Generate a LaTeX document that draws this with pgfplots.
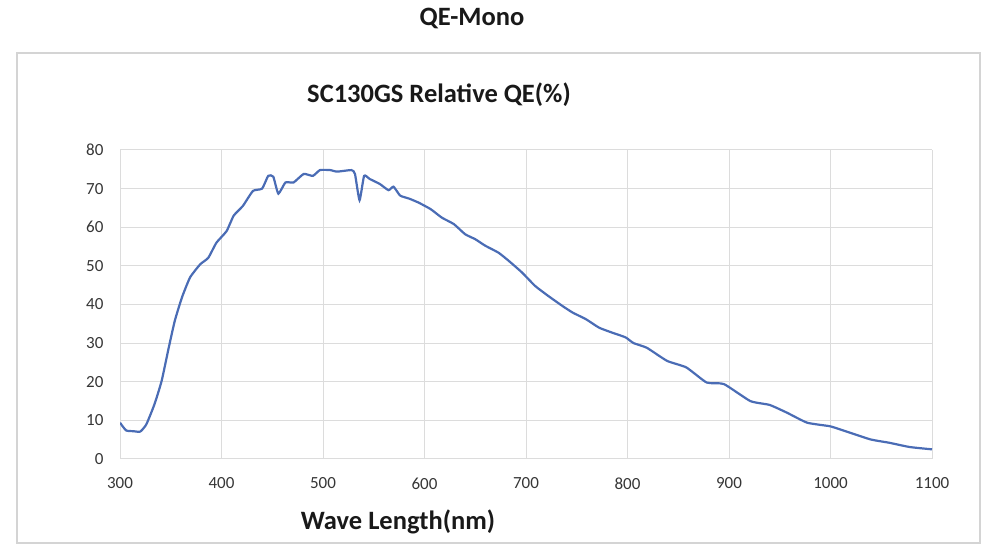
\documentclass[border=0pt]{standalone}
\usepackage{fontspec}
\setmainfont{Carlito}
\usepackage{pgfplots}
\pgfplotsset{compat=1.18}
\definecolor{qeblue}{HTML}{4A6CB5}
\definecolor{gridgray}{HTML}{DCDCDC}
\definecolor{framegray}{HTML}{D4D4D4}
\definecolor{ticktext}{HTML}{363636}
\begin{document}
\begin{tikzpicture}[x=1pt,y=1pt]
\path[use as bounding box] (0,0) rectangle (990,546);
\draw[framegray, line width=1.6pt] (17,493) rectangle (980,3);
\begin{axis}[
  at={(120pt,87pt)}, anchor=south west,
  scale only axis, width=812pt, height=309pt,
  xmin=300, xmax=1100, ymin=0, ymax=80,
  xtick={300,400,...,1100}, ytick={0,10,...,80},
  grid=major,
  major grid style={draw=gridgray, line width=1pt},
  axis line style={draw=none},
  tick style={draw=none},
  /pgf/number format/assume math mode=true,
  /pgf/number format/1000 sep={},
  ticklabel style={font=\fontsize{17}{19}\selectfont, text=ticktext},
  xticklabel style={yshift=-15pt},
  yticklabel style={xshift=-13pt},
]
\addplot[qeblue, line width=2.2pt, smooth, tension=0.3] coordinates {
(300,9.4) (306,7.4) (313,7.2) (320,7.1) (326,9.0) (334,14.2) (341,20.2)
(348,28.8) (354,35.8) (361,41.8) (369,47) (379,50.4) (387,52.1) (395,56)
(405,59) (412,63) (421,65.5) (431,69.4) (440,70) (446,73.3) (451,73.1)
(456,68.7) (463,71.6) (471,71.6) (481,73.8) (490,73.3) (497,74.8) (507,74.8)
(514,74.4) (528,74.8) (531.5,73.8) (536,67) (540.5,73.3) (546,72.5)
(556,71.2) (564.5,69.6) (569.5,70.5) (576,68.2) (585,67.4) (594,66.4)
(606,64.7) (617,62.5) (629,60.8) (640,58.2) (650,56.9) (660,55.2)
(673,53.4) (683,51.3) (696,48.3) (709,44.8) (722,42.2) (736,39.6)
(746,37.9) (759,36.2) (772,34) (785,32.7) (798,31.5) (806,30) (819,28.8)
(839,25.4) (858,23.7) (878,19.8) (895,19.4) (921,15) (940,14) (957,12)
(977,9.4) (999,8.5) (1009,7.7) (1039,5.1) (1058,4.2) (1078,3.1) (1100,2.5)
};
\end{axis}
\node[font=\bfseries\fontsize{26.5}{30}\selectfont, text=black!90] at (472,528) {QE-Mono};
\node[font=\bfseries\fontsize{26.5}{30}\selectfont, text=black!90] at (439,451) {SC130GS Relative QE(\%)};
\node[font=\bfseries\fontsize{26.5}{30}\selectfont, text=black!90] at (398,24) {Wave Length(nm)};
\end{tikzpicture}
\end{document}
